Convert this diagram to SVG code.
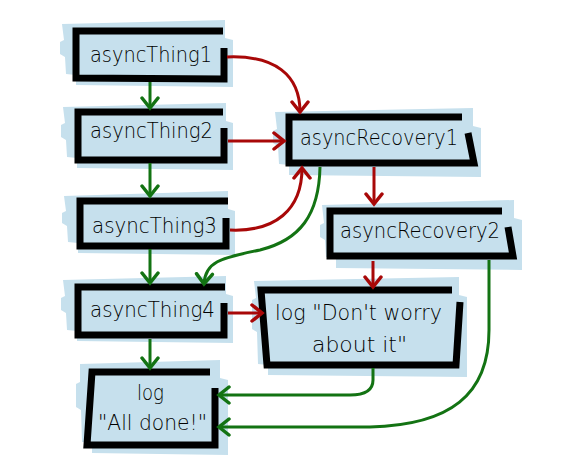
<svg xmlns="http://www.w3.org/2000/svg" width="564" height="464" viewBox="0 0 564 464">
<style>
.tape{fill:#c6e0ed;stroke:none}
.frame{fill:none;stroke:#000;stroke-width:7;stroke-linejoin:miter;stroke-linecap:butt}
.lbl{font-family:"DejaVu Sans","Liberation Sans",sans-serif;font-size:21px;fill:#000;font-weight:200}
.g{fill:none;stroke:#137313;stroke-width:3}
.r{fill:none;stroke:#a80808;stroke-width:3}
</style>
<defs>
<marker id="ag" markerWidth="24" markerHeight="24" refX="12" refY="12" orient="auto" markerUnits="userSpaceOnUse" viewBox="0 0 24 24"><path d="M2,4 L12,12 L2,20" fill="none" stroke="#137313" stroke-width="3.5" stroke-linecap="round"/></marker>
<marker id="ar" markerWidth="24" markerHeight="24" refX="12" refY="12" orient="auto" markerUnits="userSpaceOnUse" viewBox="0 0 24 24"><path d="M2,4 L12,12 L2,20" fill="none" stroke="#a80808" stroke-width="3.5" stroke-linecap="round"/></marker>
</defs>
<g id="asyncThing1">
<polygon class="tape" points="62,24 225,20 225,38 233,40 233,87 76,85 76,75 66,74 65,57 60,54 60,42 64,40"/>
<path class="frame" d="M223,31 L76,31 L76,78 L224,79 L224,48"/>
<text class="lbl" x="90" y="62" textLength="122" lengthAdjust="spacingAndGlyphs">asyncThing1</text>
</g>
<g id="asyncThing2">
<polygon class="tape" points="63,107 226,103 226,121 233,123 233,170 77,168 77,158 67,157 66,140 61,137 61,125 65,123"/>
<path class="frame" d="M223,112 L78,112 L78,160 L224,160 L224,128"/>
<text class="lbl" x="90" y="138" textLength="123" lengthAdjust="spacingAndGlyphs">asyncThing2</text>
</g>
<g id="asyncThing3">
<polygon class="tape" points="64,196 228,191 228,209 235,211 235,255 78,253 78,243 68,242 67,226 62,223 62,213 66,211"/>
<path class="frame" d="M228,201 L80,201 L80,246 L226,246 L226,218"/>
<text class="lbl" x="92" y="233" textLength="125" lengthAdjust="spacingAndGlyphs">asyncThing3</text>
</g>
<g id="asyncThing4">
<polygon class="tape" points="63,280 226,276 226,294 233,296 233,343 77,341 77,331 67,330 66,313 61,310 61,298 65,296"/>
<path class="frame" d="M225,287 L78,287 L78,335 L224,335 L224,303"/>
<text class="lbl" x="90" y="317" textLength="125" lengthAdjust="spacingAndGlyphs">asyncThing4</text>
</g>
<g id="asyncRecovery1">
<polygon class="tape" points="275,112 473,108 473,126 481,128 481,177 289,175 289,165 279,164 278,146 273,143 273,131 277,129"/>
<path class="frame" d="M462,117 L289,117 L289,163 L474,163 L468,133"/>
<text class="lbl" x="300" y="145" textLength="158" lengthAdjust="spacingAndGlyphs">asyncRecovery1</text>
</g>
<g id="asyncRecovery2">
<polygon class="tape" points="322,205 514,200 514,218 522,220 522,270 336,268 336,258 326,257 325,240 320,237 320,225 324,223"/>
<path class="frame" d="M502,211 L330,211 L330,256 L513,256 L508,227"/>
<text class="lbl" x="340" y="238" textLength="160" lengthAdjust="spacingAndGlyphs">asyncRecovery2</text>
</g>
<g id="logDontWorry">
<polygon class="tape" points="254,281 459,277 459,295 467,297 467,377 268,375 268,365 258,364 257,332 252,329 252,300 256,298"/>
<path class="frame" d="M452,290 L261,290 L267,365 L456,365 L460,302"/>
<text class="lbl" x="275" y="320" textLength="167" lengthAdjust="spacingAndGlyphs">log "Don't worry</text>
<text class="lbl" x="312" y="352" textLength="95" lengthAdjust="spacingAndGlyphs">about it"</text>
</g>
<g id="logAllDone">
<polygon class="tape" points="80,364 220,360 220,378 228,380 228,455 92,453 92,443 82,442 81,410 76,407 76,384 80,382"/>
<path class="frame" d="M210,372 L92,372 L87,445 L215,445 L215,388"/>
<text class="lbl" x="137" y="400" textLength="27" lengthAdjust="spacingAndGlyphs">log</text>
<text class="lbl" x="98" y="430" textLength="109" lengthAdjust="spacingAndGlyphs">"All done!"</text>
</g>
<g id="connectors">
<path class="g" d="M150,82 L150,108" marker-end="url(#ag)"/>
<path class="g" d="M150,163 L150,196" marker-end="url(#ag)"/>
<path class="g" d="M150,249 L150,283" marker-end="url(#ag)"/>
<path class="g" d="M150,339 L150,368" marker-end="url(#ag)"/>
<path class="r" d="M227,57 C275,55 300,75 300,112" marker-end="url(#ar)"/>
<path class="r" d="M228,141 L284,141" marker-end="url(#ar)"/>
<path class="r" d="M230,230 C275,232 302,210 302,168" marker-end="url(#ar)"/>
<path class="g" d="M320,167 C319,215 300,240 260,250 C220,258 205,262 204,284" marker-end="url(#ag)"/>
<path class="r" d="M374,167 L374,204" marker-end="url(#ar)"/>
<path class="r" d="M373,261 L373,287" marker-end="url(#ar)"/>
<path class="r" d="M228,313 L262,313" marker-end="url(#ar)"/>
<path class="g" d="M373,368 L373,380 C373,390 365,395 350,395 L219,395" marker-end="url(#ag)"/>
<path class="g" d="M489,260 L489,330 C489,395 450,425 370,427 L219,427" marker-end="url(#ag)"/>
</g>
</svg>
